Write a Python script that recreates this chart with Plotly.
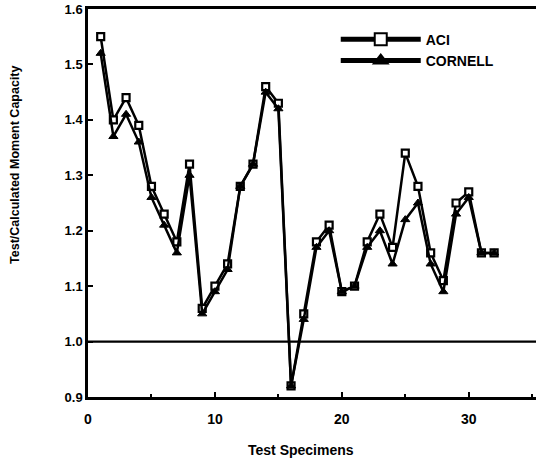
import plotly.graph_objects as go

specimens = list(range(1, 33))
aci = [1.55, 1.40, 1.44, 1.39, 1.28, 1.23, 1.18, 1.32, 1.06, 1.10,
       1.14, 1.28, 1.32, 1.46, 1.43, 0.92, 1.05, 1.18, 1.21, 1.09,
       1.10, 1.18, 1.23, 1.17, 1.34, 1.28, 1.16, 1.11, 1.25, 1.27,
       1.16, 1.16]
cornell = [1.52, 1.37, 1.41, 1.36, 1.26, 1.21, 1.16, 1.30, 1.05, 1.09,
           1.13, 1.28, 1.32, 1.45, 1.42, 0.92, 1.04, 1.17, 1.20, 1.09,
           1.10, 1.17, 1.20, 1.14, 1.22, 1.25, 1.14, 1.09, 1.23, 1.26,
           1.16, 1.16]
reference_ratio = 1.0
y_ticks = [0.9, 1.0, 1.1, 1.2, 1.3, 1.4, 1.5, 1.6]
x_ticks = [0, 10, 20, 30]

FONT = "Liberation Sans, Arial, sans-serif"

fig = go.Figure()
fig.add_trace(go.Scatter(
    x=specimens, y=aci, name="ACI", mode="lines+markers",
    line=dict(color="black", width=2.5),
    marker=dict(symbol="square", size=7, color="white",
                line=dict(color="black", width=2.2)),
))
fig.add_trace(go.Scatter(
    x=specimens, y=cornell, name="CORNELL", mode="lines+markers",
    line=dict(color="black", width=2.5),
    marker=dict(symbol="triangle-up", size=8, color="black",
                line=dict(color="black", width=1)),
))

fig.add_shape(type="line", xref="paper", x0=0, x1=1, yref="y",
              y0=reference_ratio, y1=reference_ratio,
              line=dict(color="black", width=2.2))

fig.update_layout(
    width=536, height=464,
    margin=dict(l=88, r=0, t=9, b=67),
    paper_bgcolor="white", plot_bgcolor="white",
    font=dict(family=FONT, size=12, color="black", weight="bold"),
    showlegend=True,
    legend=dict(x=0.553, y=0.962, xanchor="left", yanchor="top",
                bgcolor="rgba(0,0,0,0)", itemwidth=80,
                font=dict(family=FONT, size=14, color="black", weight="bold"),
                tracegroupgap=0, itemsizing="constant"),
    xaxis=dict(range=[0, 35.3], tickvals=x_ticks, showgrid=False,
               zeroline=False, showline=True, linecolor="black",
               linewidth=2.5, mirror=True, ticks="inside", ticklen=5,
               tickwidth=2, tickcolor="black", ticklabelstandoff=7,
               minor=dict(dtick=5, ticks="inside", ticklen=3,
                          tickwidth=2, tickcolor="black", showgrid=False),
               tickfont=dict(family=FONT, size=14, weight="bold")),
    yaxis=dict(range=[0.9, 1.6], tickvals=y_ticks, tickformat=".1f",
               showgrid=False, zeroline=False, showline=True,
               linecolor="black", linewidth=2.5, mirror=False,
               ticks="inside", ticklen=5, tickwidth=2, tickcolor="black",
               tickfont=dict(family=FONT, size=13, weight="bold")),
    annotations=[
        dict(text="Test Specimens", xref="paper", yref="paper",
             x=0.475, y=-0.137, xanchor="center", yanchor="middle",
             showarrow=False,
             font=dict(family=FONT, size=14, weight="bold")),
        dict(text="Test/Calculated Moment Capacity", xref="paper",
             yref="paper", x=-0.163, y=0.598, xanchor="center",
             yanchor="middle", textangle=-90, showarrow=False,
             font=dict(family=FONT, size=12.5, weight="bold")),
    ],
)

fig.write_html("out.html",
               config={"displayModeBar": False},
               post_script="document.body.style.margin='0';"
                           "document.body.style.overflow='hidden';")
